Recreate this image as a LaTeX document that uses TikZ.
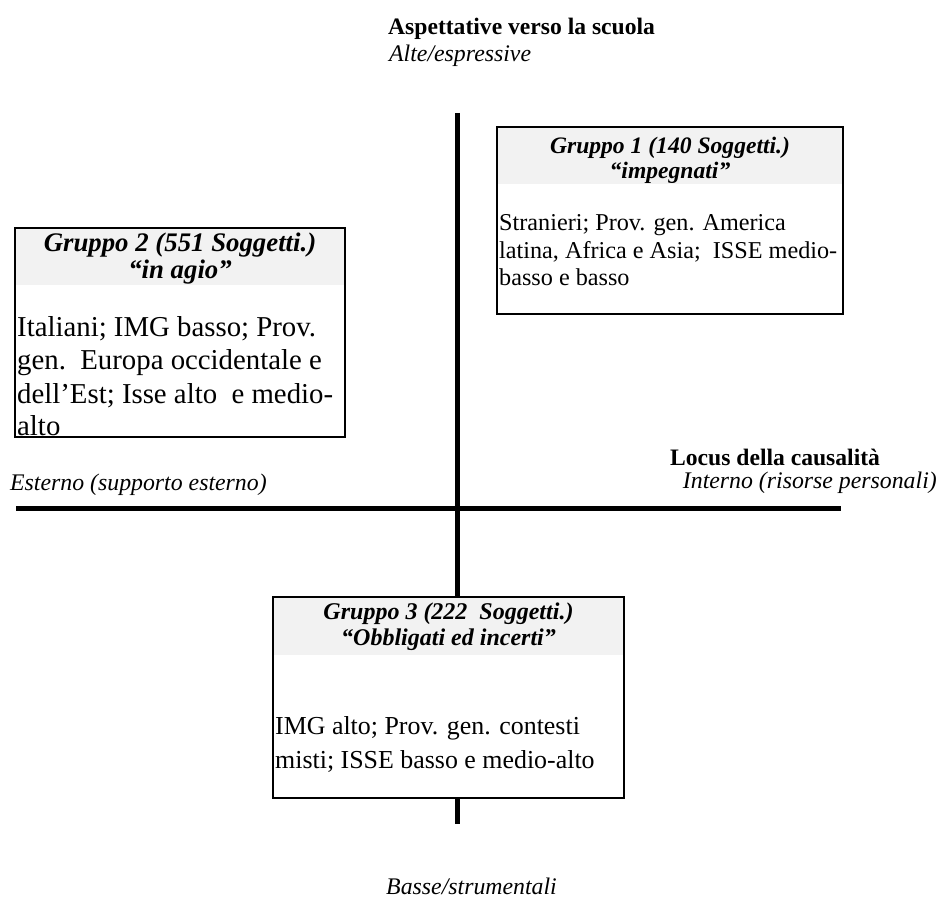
\documentclass[tikz,border=0pt]{standalone}
\usepackage{fontspec}
\setmainfont{Liberation Serif}
\begin{document}
\begin{tikzpicture}[x=1pt,y=-1pt,
  axis/.style={line width=5pt},
  box/.style={draw=black, line width=2pt, fill=white, inner sep=0pt, outer sep=0pt, anchor=north west},
  headfill/.style={fill=black!5},
  lbl/.style={inner sep=0pt, anchor=base west},
  lblb/.style={lbl, font=\fontsize{23.6}{27}\selectfont\bfseries},
  lbli/.style={lbl, font=\fontsize{23.8}{27}\selectfont\itshape},
  headtxt/.style={inner sep=0pt, anchor=base},
  headA/.style={headtxt, font=\fontsize{23.6}{27}\selectfont\bfseries\itshape},
  headB/.style={headtxt, font=\fontsize{26.8}{30}\selectfont\bfseries\itshape},
  headC/.style={headtxt, font=\fontsize{24}{28}\selectfont\bfseries\itshape},
  bodyA/.style={lbl, font=\fontsize{24.2}{28}\selectfont},
  bodyB/.style={lbl, font=\fontsize{28.8}{33}\selectfont},
  bodyC/.style={lbl, font=\fontsize{25.9}{30}\selectfont}
]
\useasboundingbox (0,0) rectangle (938,904);

% axes end points
\coordinate (vtop) at (457.5,113);
\coordinate (vbot) at (457.5,824);
\coordinate (hleft) at (16,508);
\coordinate (hright) at (841,508);

% horizontal axis
\draw[axis] (hleft) -- (hright);

% Box 3 (on the vertical axis)
\node[box, minimum width=351pt, minimum height=201pt] (g3) at (273,597) {};
\fill[headfill] ([shift={(1,1)}]g3.north west) rectangle ([shift={(-1,0)}]g3.north east |- 0,655);
\draw[axis] (vtop) -- (g3.north -| vtop);
\draw[axis] (g3.south -| vbot) -- (vbot);

% Box 1
\node[box, minimum width=346pt, minimum height=187pt] (g1) at (497,127) {};
\fill[headfill] ([shift={(1,1)}]g1.north west) rectangle ([shift={(-1,0)}]g1.north east |- 0,184);

% Box 2
\node[box, minimum width=330pt, minimum height=209pt] (g2) at (15,228) {};
\fill[headfill] ([shift={(1,1)}]g2.north west) rectangle ([shift={(-1,0)}]g2.north east |- 0,285);

% Box 1 texts
\node[headA] (g1h1) at (670,154) {Gruppo 1 (140 Soggetti.)};
\node[headA] (g1h2) at (670,179) {“impegnati”};
\node[bodyA] (g1b1) at (499,231) {Stranieri; Prov. gen. America};
\node[bodyA] (g1b2) at (499,259) {latina, Africa e Asia;\ \ ISSE medio-};
\node[bodyA] (g1b3) at (499,286) {basso e basso};

% Box 2 texts
\node[headB] (g2h1) at (180,252) {Gruppo 2 (551 Soggetti.)};
\node[headB] (g2h2) at (180,279) {“in agio”};
\node[bodyB] (g2b1) at (17,337) {Italiani; IMG basso; Prov.};
\node[bodyB] (g2b2) at (17,370) {gen.\ \ Europa occidentale e};
\node[bodyB] (g2b3) at (17,403) {dell’Est; Isse alto\ \ e medio-};
\node[bodyB] (g2b4) at (17,435) {alto};

% Box 3 texts
\node[headC] (g3h1) at (448.5,619) {Gruppo 3 (222\ \ Soggetti.)};
\node[headC] (g3h2) at (448.5,645) {“Obbligati ed incerti”};
\node[bodyC] (g3b1) at (275,734) {IMG alto; Prov. gen. contesti};
\node[bodyC] (g3b2) at (275,768) {misti; ISSE basso e medio-alto};

% Axis labels
\node[lblb] (ytitle) at (388,35) {Aspettative verso la scuola};
\node[lbli] (yhigh) at (389,62) {Alte/espressive};
\node[lblb] (xtitle) at (670,465) {Locus della causalità};
\node[lbli, anchor=base east] (xright) at (937,488) {Interno (risorse personali)};
\node[lbli] (xleft) at (10,490) {Esterno (supporto esterno)};
\node[lbli, anchor=base east] (ylow) at (557,894) {Basse/strumentali};
\end{tikzpicture}
\end{document}
